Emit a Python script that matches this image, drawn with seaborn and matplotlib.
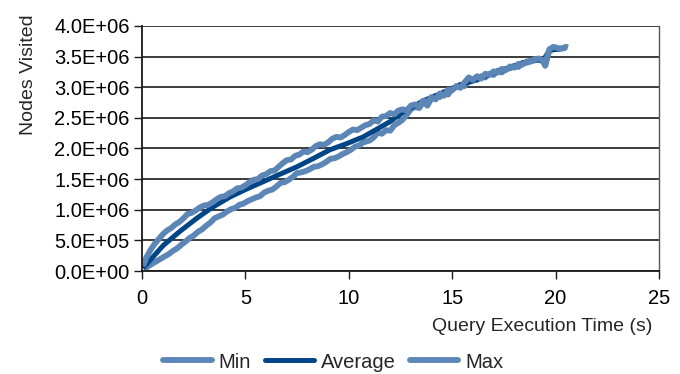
import matplotlib
matplotlib.use("Agg")
import matplotlib.pyplot as plt
import seaborn as sns
import pandas as pd
from matplotlib.ticker import FuncFormatter, MultipleLocator

# values in millions of nodes
min_time = [0.1, 0.3, 0.5, 0.7, 0.9, 1.1, 1.3, 1.5, 1.7, 1.9, 2.1, 2.3, 2.5,
            2.7, 2.9, 3.1, 3.3, 3.5, 3.7, 3.9, 4.1, 4.3, 4.5, 4.7, 4.9, 5.1,
            5.3, 5.5, 5.7, 5.9, 6.1, 6.3, 6.5, 6.7, 6.9, 7.1, 7.3, 7.5, 7.7,
            7.9, 8.1, 8.3, 8.5, 8.7, 8.9, 9.1, 9.3, 9.5, 9.7, 9.9, 10.1, 10.3,
            10.5, 10.7, 10.9, 11.0, 11.2, 11.4, 11.6, 11.8, 12.0, 12.2, 12.4,
            12.6, 12.8, 13.0, 13.2, 13.4, 13.6, 13.8, 14.0, 14.2, 14.4, 14.6,
            14.8, 15.0, 15.2, 15.4, 15.6, 15.8, 16.0, 16.2, 16.4, 16.6, 16.8,
            17.0, 17.2, 17.4, 17.6, 17.8, 18.0, 18.2, 18.4, 18.6, 18.8, 19.0,
            19.2, 19.4, 19.5, 19.6, 19.7, 19.9, 20.1, 20.4]
min_nodes = [0.02, 0.08, 0.12, 0.16, 0.20, 0.24, 0.28, 0.33, 0.37, 0.43, 0.48,
             0.54, 0.58, 0.64, 0.68, 0.74, 0.79, 0.86, 0.89, 0.92, 0.97, 1.01,
             1.03, 1.08, 1.10, 1.14, 1.17, 1.20, 1.22, 1.28, 1.31, 1.33, 1.38,
             1.44, 1.45, 1.49, 1.54, 1.60, 1.61, 1.63, 1.66, 1.70, 1.71, 1.74,
             1.78, 1.83, 1.84, 1.87, 1.91, 1.94, 1.98, 2.03, 2.05, 2.10, 2.12,
             2.13, 2.18, 2.26, 2.24, 2.30, 2.29, 2.38, 2.42, 2.47, 2.55, 2.64,
             2.68, 2.66, 2.76, 2.70, 2.82, 2.86, 2.84, 2.92, 2.88, 2.98, 3.00,
             3.04, 3.02, 3.10, 3.13, 3.12, 3.18, 3.16, 3.22, 3.20, 3.27, 3.24,
             3.30, 3.31, 3.35, 3.33, 3.39, 3.40, 3.42, 3.44, 3.45, 3.42, 3.35,
             3.48, 3.60, 3.64, 3.62, 3.64]

avg_time = [0.05, 0.5, 1.03, 1.8, 2.64, 3.4, 4.26, 5.0, 5.87, 6.6, 7.48, 8.3,
            9.09, 9.9, 10.7, 11.43, 12.0, 12.64, 13.2, 13.6, 14.2, 14.8, 15.4,
            16.0, 16.6, 17.2, 17.8, 18.4, 19.0, 19.4, 19.7, 20.2, 20.5]
avg_nodes = [0.05, 0.22, 0.42, 0.64, 0.86, 1.04, 1.21, 1.33, 1.46, 1.57, 1.70,
             1.84, 1.98, 2.08, 2.19, 2.33, 2.44, 2.60, 2.70, 2.78, 2.86, 2.95,
             3.04, 3.10, 3.18, 3.26, 3.32, 3.40, 3.45, 3.44, 3.60, 3.63, 3.64]

max_time = [0.05, 0.2, 0.4, 0.6, 0.8, 1.0, 1.2, 1.4, 1.6, 1.8, 2.0, 2.2, 2.4,
            2.6, 2.8, 3.0, 3.2, 3.4, 3.6, 3.8, 4.0, 4.2, 4.4, 4.6, 4.8, 5.0,
            5.2, 5.4, 5.6, 5.8, 6.0, 6.2, 6.4, 6.6, 6.8, 7.0, 7.2, 7.4, 7.6,
            7.8, 8.0, 8.2, 8.4, 8.6, 8.8, 9.0, 9.2, 9.4, 9.6, 9.8, 10.0, 10.2,
            10.4, 10.6, 10.8, 11.0, 11.2, 11.4, 11.6, 11.8, 12.0, 12.2, 12.4,
            12.6, 12.8, 13.0, 13.2, 13.4, 13.6, 13.8, 14.0, 14.2, 14.4, 14.6,
            14.8, 15.0, 15.2, 15.4, 15.6, 15.8, 16.0, 16.2, 16.4, 16.6, 16.8,
            17.0, 17.2, 17.4, 17.6, 17.8, 18.0, 18.2, 18.4, 18.6, 18.8, 19.0,
            19.2, 19.4, 19.5, 19.6, 19.7, 19.9, 20.1, 20.3, 20.5, 20.6]
max_nodes = [0.08, 0.22, 0.34, 0.44, 0.52, 0.60, 0.66, 0.70, 0.76, 0.80, 0.86,
             0.93, 0.95, 0.99, 1.04, 1.07, 1.08, 1.12, 1.17, 1.21, 1.22, 1.27,
             1.30, 1.35, 1.36, 1.40, 1.45, 1.49, 1.50, 1.56, 1.58, 1.63, 1.64,
             1.70, 1.76, 1.81, 1.82, 1.88, 1.90, 1.95, 1.94, 1.98, 2.04, 2.07,
             2.06, 2.10, 2.16, 2.19, 2.18, 2.22, 2.27, 2.31, 2.30, 2.34, 2.38,
             2.40, 2.46, 2.44, 2.52, 2.53, 2.58, 2.56, 2.62, 2.64, 2.62, 2.70,
             2.72, 2.69, 2.78, 2.76, 2.84, 2.80, 2.90, 2.86, 2.96, 2.95, 3.02,
             2.99, 3.08, 3.16, 3.12, 3.18, 3.14, 3.22, 3.20, 3.26, 3.24, 3.30,
             3.28, 3.34, 3.32, 3.38, 3.37, 3.42, 3.43, 3.46, 3.47, 3.44, 3.36,
             3.50, 3.62, 3.66, 3.64, 3.63, 3.66, 3.65]

series = ["Min", "Average", "Max"]
light = "#5b86b5"
dark = "#004586"
light_w = 4.2
dark_w = 3.6

frames = []
for name, t, n in [("Min", min_time, min_nodes), ("Average", avg_time, avg_nodes),
                   ("Max", max_time, max_nodes)]:
    frames.append(pd.DataFrame({"time": t, "nodes": [v * 1e6 for v in n], "series": name}))
df = pd.concat(frames, ignore_index=True)

sns.set_style("white")
plt.rcParams["font.family"] = ["Liberation Sans", "DejaVu Sans"]

fig = plt.figure(figsize=(6.8, 3.74), dpi=100)
ax = fig.add_axes([0.209, 0.2754, 0.76, 0.6551])

sns.lineplot(data=df, x="time", y="nodes", hue="series", hue_order=series,
             palette={"Min": light, "Average": dark, "Max": light},
             estimator=None, sort=False, ax=ax, legend=False)
for line, w in zip(ax.lines, [light_w, dark_w, light_w]):
    line.set_linewidth(w)
    line.set_solid_capstyle("butt")
    line.set_solid_joinstyle("round")

ax.set_xlim(0, 25)
ax.set_ylim(0, 4e6)
ax.xaxis.set_major_locator(MultipleLocator(5))
ax.yaxis.set_major_locator(MultipleLocator(5e5))
ax.yaxis.set_major_formatter(FuncFormatter(
    lambda v, p: "{:.1E}".format(v)))
ax.grid(axis="y", color="#1a1a1a", linewidth=1.2)
ax.set_axisbelow(True)
for s in ["left", "bottom"]:
    ax.spines[s].set_color("#1a1a1a")
    ax.spines[s].set_linewidth(1.3)
ax.spines["right"].set_color("#555555")
ax.spines["right"].set_linewidth(1.0)
ax.spines["top"].set_visible(False)
ax.tick_params(axis="both", direction="out", length=6, width=1.0,
               color="#1a1a1a", labelsize=14.5, labelcolor="black",
               left=True, bottom=True)
ax.tick_params(axis="x", pad=7)
ax.tick_params(axis="y", pad=3)

ax.set_xlabel("Query Execution Time (s)", fontsize=14, loc="right")
ax.xaxis.set_label_coords(0.987, -0.19)
ax.set_ylabel("Nodes Visited", fontsize=14)
ax.yaxis.set_label_coords(-0.203, 0.80)

handles = [plt.Line2D([], [], color=c, linewidth=w)
           for c, w in [(light, light_w), (dark, dark_w), (light, light_w)]]
fig.legend(handles, series, loc="center", bbox_to_anchor=(0.49, 0.032), ncol=3,
           frameon=False, fontsize=14.5, handlelength=2.4, handletextpad=0.35,
           columnspacing=0.7, borderaxespad=0)

fig.savefig("out.png", dpi=100)
